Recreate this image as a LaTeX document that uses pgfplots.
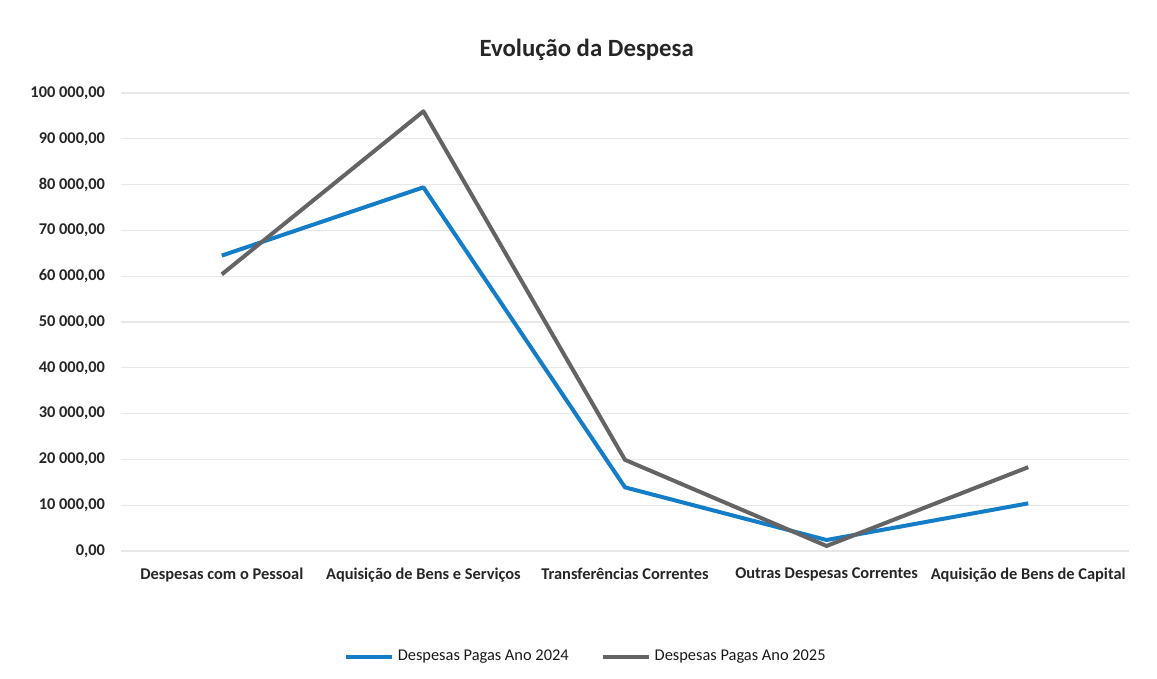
\documentclass[border=0pt]{standalone}
\usepackage{fontspec}
\setmainfont{Carlito}
\usepackage{pgfplots}
\pgfplotsset{compat=1.18}
\definecolor{serieA}{RGB}{20,125,200}
\definecolor{serieB}{RGB}{100,100,100}
\begin{document}
\begin{tikzpicture}
\useasboundingbox (-60.5pt,-64pt) rectangle (518pt,275.5pt);
\begin{axis}[
    at={(0pt,0pt)}, anchor=south west,
    scale only axis,
    width=504pt, height=229pt,
    xmin=-0.5, xmax=4.5,
    ymin=0, ymax=100000,
    clip=false,
    xtick={0,1,2,3,4},
    xticklabels={Despesas com o Pessoal, Aquisição de Bens e Serviços, Transferências Correntes, Outras Despesas Correntes, Aquisição de Bens de Capital},
    ytick={0,10000,...,100000},
    axis line style={draw=none},
    tick style={draw=none},
    ymajorgrids,
    grid style={black!9, line width=0.6pt},
    scaled y ticks=false,
    yticklabel style={
        /pgf/number format/fixed,
        /pgf/number format/fixed zerofill,
        /pgf/number format/precision=2,
        /pgf/number format/use comma,
        /pgf/number format/1000 sep={\ },
        /pgf/number format/assume math mode=true,
        xshift=-4.5pt},
    ticklabel style={font=\fontsize{8.2}{10}\selectfont\bfseries, text=black!85},
    xticklabel style={yshift=-5pt},
    legend style={at={(0.462,0)}, yshift=-53pt, anchor=center, draw=none, fill=none,
        legend columns=2, font=\fontsize{8.2}{10}\selectfont, text=black!90,
        /tikz/every even column/.append style={column sep=14pt}},
    legend cell align=left,
    legend image code/.code={\draw[#1] (0pt,0pt) -- (23pt,0pt);},
]
\addplot[serieA, line width=2pt, line join=round] coordinates {
    (0,64500) (1,79400) (2,13900) (3,2400) (4,10400)
};
\addlegendentry{Despesas Pagas Ano 2024}
\addplot[serieB, line width=2pt, line join=round] coordinates {
    (0,60400) (1,96000) (2,19900) (3,1100) (4,18300)
};
\addlegendentry{Despesas Pagas Ano 2025}
\node[font=\fontsize{12.4}{14}\selectfont\bfseries, text=black!85] at (rel axis cs:0.462,1) [yshift=21.5pt] {Evolução da Despesa};
\end{axis}
\end{tikzpicture}
\end{document}
